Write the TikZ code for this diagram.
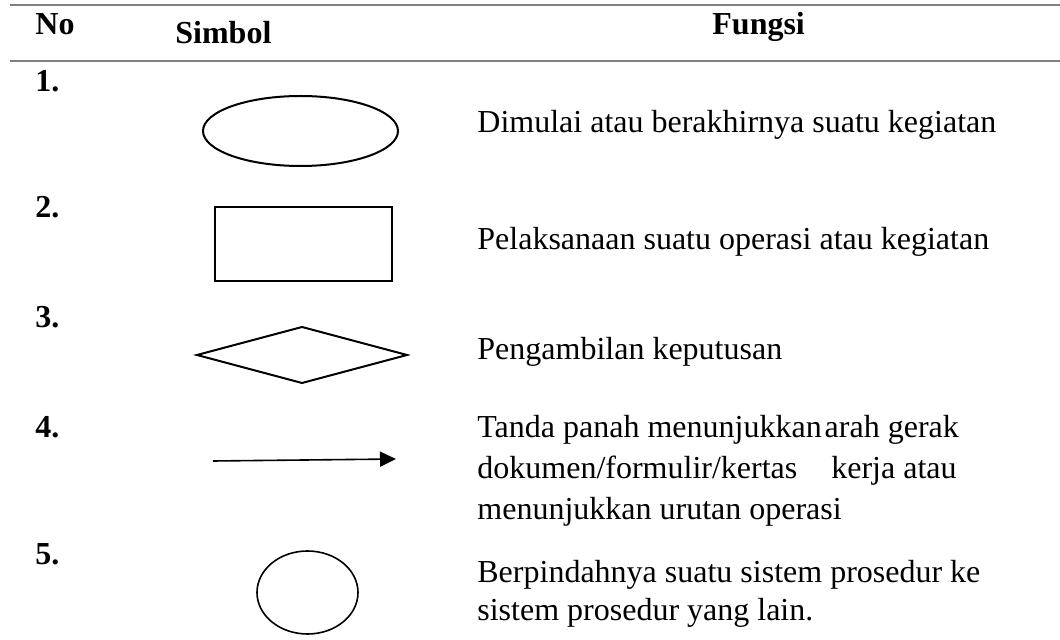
\documentclass[tikz,border=0pt]{standalone}
\usepackage{fontspec}
\setmainfont{Liberation Serif}
\usetikzlibrary{arrows.meta}
\tikzset{
  teks/.style={anchor=base west, inner sep=0pt, font=\fontsize{16}{20}\selectfont},
  tebal/.style={teks, font=\fontsize{16}{20}\selectfont\bfseries},
  garis/.style={draw=black!50, line width=1.3pt},
  simbol/.style={line width=1pt},
}

\begin{document}
\begin{tikzpicture}[x=0.5pt,y=-0.5pt]
			\useasboundingbox (0,0) rectangle (1060,640);
			%%%%% KEPALA %%%%%
			\draw[garis] (10,5) -- (1060,5);
			\draw[garis] (10,61) -- (1060,61);
			\node[tebal] (no) at (35,35) {No};
			\node[tebal] (simbol) at (175,44) {Simbol};
			\node[tebal] (fungsi) at (712,35) {Fungsi};
			
			%%%%% NOMOR %%%%%
			\node[tebal] (n1) at (35,92) {1.};
			\node[tebal] (n2) at (35,218) {2.};
			\node[tebal] (n3) at (35,328) {3.};
			\node[tebal] (n4) at (35,438) {4.};
			\node[tebal] (n5) at (35,565) {5.};
			
			%%%%% SIMBOL %%%%%
			\draw[simbol] (300.5,131) ellipse [x radius=97.5, y radius=35];
			\draw[simbol, line width=1.2pt] (215,207) rectangle (392,281);
			\draw[simbol] (197,355) -- (302,327) -- (407,355) -- (302,383) -- cycle;
			\coordinate (ar1) at (213,461);
			\coordinate (ar2) at (396,459);
			\draw[line width=0.8pt, -{Triangle[length=8pt,width=7.5pt]}] (ar1) -- (ar2);
			\draw[simbol, line width=0.8pt] (307.5,592.5) ellipse [x radius=50.5, y radius=41.5];
			
			%%%%% FUNGSI %%%%%
			\node[teks] (f1) at (477,133) {Dimulai atau berakhirnya suatu kegiatan};
			\node[teks] (f2) at (477,250) {Pelaksanaan suatu operasi atau kegiatan};
			\node[teks] (f3) at (477,360) {Pengambilan keputusan};
			\node[teks] (f4a) at (477,438) {Tanda panah menunjukkan\hspace{1.5pt}arah gerak};
			\node[teks] (f4b) at (477,479) {dokumen/formulir/kertas\hspace{13pt} kerja atau};
			\node[teks] (f4c) at (477,520) {menunjukkan urutan operasi};
			\node[teks] (f5a) at (477,582) {Berpindahnya suatu sistem prosedur ke};
			\node[teks] (f5b) at (477,620) {sistem prosedur yang lain.};
			%%%%% END %%%%%
\end{tikzpicture}
\end{document}
